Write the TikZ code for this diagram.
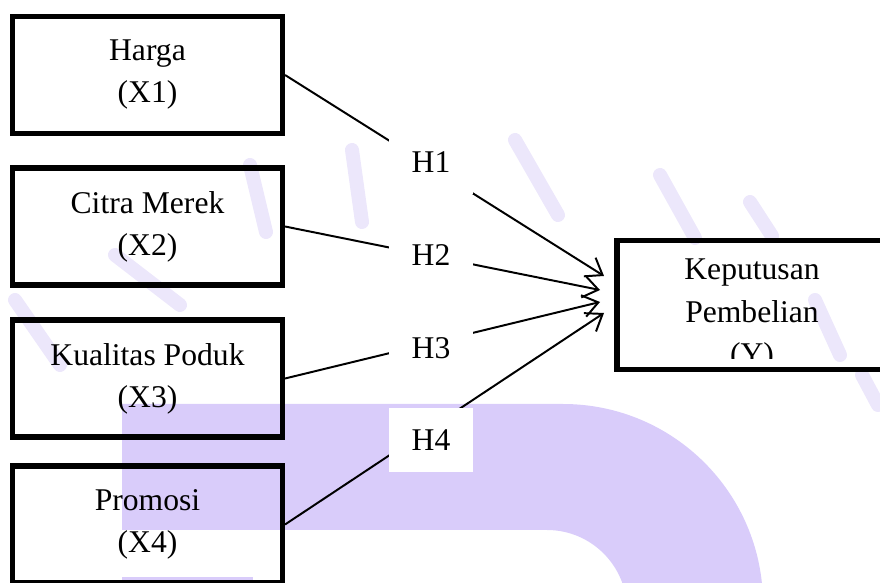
\documentclass[tikz,border=0pt]{standalone}
\usepackage{fontspec}
\setmainfont{Liberation Serif}
\usetikzlibrary{arrows.meta,backgrounds}
\definecolor{ink}{HTML}{000000}
\definecolor{wm}{HTML}{D9CCFA}
\definecolor{wmfaint}{HTML}{ECE7FB}

\begin{document}
\begin{tikzpicture}[font=\fontsize{22.5}{29.9}\selectfont,>={Straight Barb[length=0.38cm,width=0.55cm]},
    varbox/.style={draw=ink,line width=3.6pt,minimum width=6.75cm,minimum height=2.925cm,
                   align=center,inner sep=0pt},
    hlabel/.style={fill=white,minimum width=2.1cm,minimum height=1.6cm,inner sep=0pt},
    link/.style={draw=ink,line width=1.4pt}]
  \useasboundingbox (0,0) rectangle (22,14.55);

  \node[varbox] (harga) at (3.6875,12.675) {Harga\\(X1)};
  \node[varbox] (citra) at (3.6875,8.8875) {Citra Merek\\(X2)};
  \node[varbox] (kualitas) at (3.6875,5.0875) {Kualitas Poduk\\(X3)};
  \node[varbox] (promosi) at (3.6875,1.4375) {Promosi\\(X4)};
  \node[varbox,minimum height=3.225cm] (keputusan) at (18.8,6.925) {};
  \begin{scope}
    \clip (15,5.575) rectangle (22,9);
    \node[align=center,inner sep=0pt,anchor=north] (ktext) at (18.8,8.075)
      {Keputusan\\Pembelian\\(Y)};
  \end{scope}

  \coordinate (t1) at (15.1,7.65);
  \coordinate (t2) at (15.0,7.3);
  \coordinate (t3) at (15.0,7.0);
  \coordinate (t4) at (15.1,6.725);
  \draw[link,->] (harga.east) -- (t1);
  \draw[link,->] (citra.east) -- (t2);
  \draw[link,->] (kualitas.east) -- (t3);
  \draw[link,->] (promosi.east) -- (t4);

  \node[hlabel] (h1) at (10.775,10.5) {H1};
  \node[hlabel] (h2) at (10.775,8.175) {H2};
  \node[hlabel] (h3) at (10.775,5.85) {H3};
  \node[hlabel] (h4) at (10.775,3.55) {H4};

  \begin{scope}[on background layer]
    \fill[wm] (3.05,4.45) -- (14.075,4.45) arc[start angle=90,end angle=0,radius=5]
      -- (19.075,-0.7) -- (15.675,-0.7) arc[start angle=0,end angle=90,radius=2]
      -- (3.05,1.3) -- cycle;
    \fill[wm] (3.05,-0.2) rectangle (6.325,0.125);
    \draw[wmfaint,line width=0.35cm,line cap=round]
      (6.25,10.425) -- (6.65,8.75)  (8.8,10.8) -- (9.05,9.0)
      (12.875,11.05) -- (13.95,9.175)  (16.5,10.175) -- (17.375,8.6)
      (18.75,9.5) -- (19.3,8.65)  (2.875,8.175) -- (4.5,6.925)
      (0.375,7.05) -- (1.5,5.425)  (20.375,7.05) -- (21.0,5.675)
      (21.55,5.175) -- (21.95,4.425);
  \end{scope}
\end{tikzpicture}
\end{document}
